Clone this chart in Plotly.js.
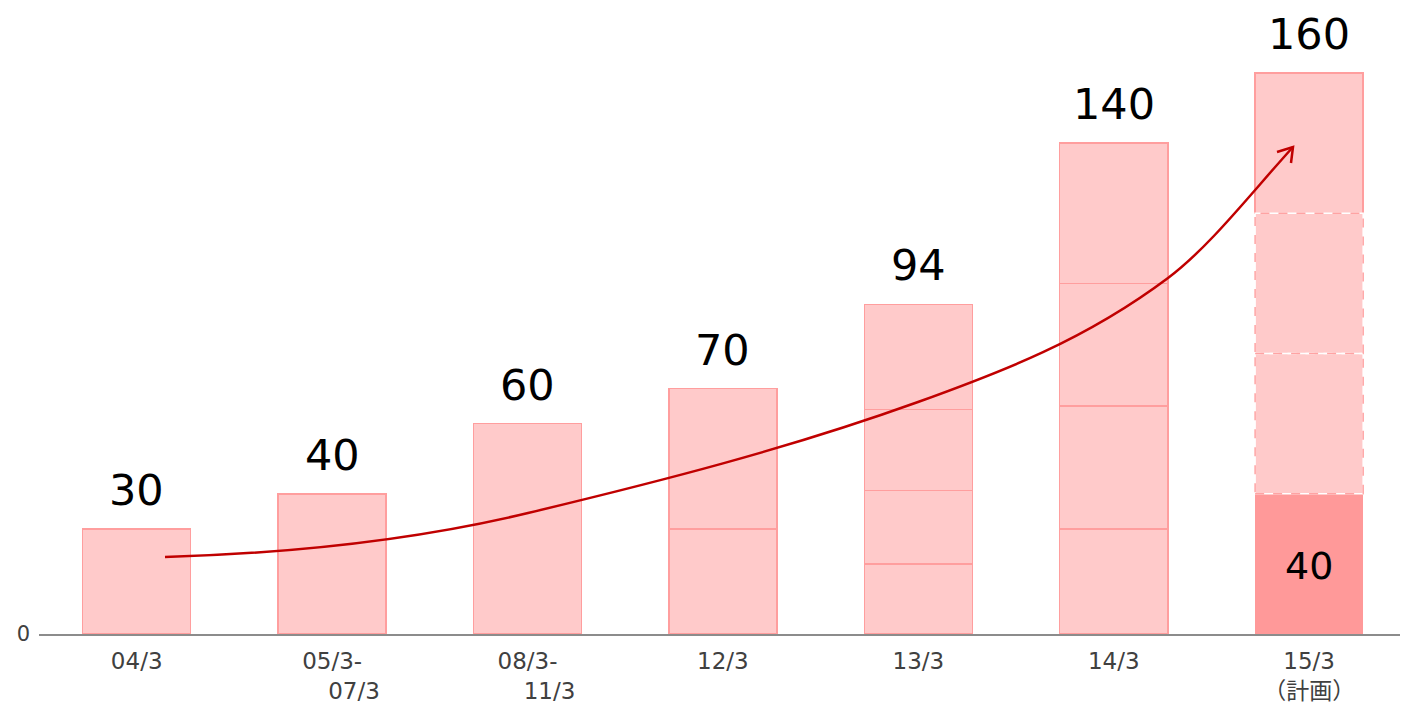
<!DOCTYPE html>
<html>
<head>
<meta charset="utf-8">
<script src="https://cdn.plot.ly/plotly-3.0.1.min.js"></script>
<style>html,body{margin:0;padding:0;background:#fff;}#chart{width:1402px;height:706px;}</style>
</head>
<body>
<div id="chart"></div>
<script>
// ---- data ----
const categories = ["04/3", "05/3-07/3", "08/3-11/3", "12/3", "13/3", "14/3", "15/3（計画）"];
const tickLabels = ["04/3", "05/3-<br>\u00A0\u00A0\u00A0\u00A0\u00A0\u00A007/3", "08/3-<br>\u00A0\u00A0\u00A0\u00A0\u00A0\u00A011/3", "12/3", "13/3", "14/3", "15/3<br>（計画）"];
const seg1 = [30, 40, 60, 30, 20, 30, 40];
const seg2 = [null, null, null, 40, 21, 35, 40];
const seg3 = [null, null, null, null, 23, 35, 40];
const seg4 = [null, null, null, null, 30, 40, 40];
const planIndex = 6;          // the planned bar
const planInnerLabel = 40;    // label inside the dark base segment

// ---- styling ----
const FONT = '"DejaVu Sans", "Noto Sans CJK JP", sans-serif';
const FILL = '#FFCACA';
const EDGE = '#FF9E9E';
const DARK = '#FF9999';
const BW = 0.553;
const L = 39, R = 2, T = 10, B = 72, W = 1402, H = 706;
const PW = W - L - R, PH = H - T - B;

const layers = [seg1, seg2, seg3, seg4];
const traces = layers.map((vals, li) => {
  const colors = vals.map((v, i) => (i === planIndex && li === 0) ? DARK : FILL);
  const lw = vals.map((v, i) => (i === planIndex && (li === 0 || li === 1 || li === 2)) ? 0 : 1.5);
  const lc = vals.map((v, i) => (i === planIndex && li === 0) ? DARK : EDGE);
  return {
    type: 'bar',
    x: categories.map((c, i) => i),
    y: vals,
    width: BW,
    marker: {color: colors, line: {color: lc, width: lw}},
    hoverinfo: 'skip',
    showlegend: false
  };
});

const totals = categories.map((c, i) => layers.reduce((s, a) => s + (a[i] || 0), 0));

const annotations = totals.map((t, i) => ({
  x: i, y: t, xref: 'x', yref: 'y', text: String(t), showarrow: false,
  yanchor: 'bottom', yshift: 12, font: {family: FONT, size: 43, color: '#000'}
}));
annotations.push({
  x: planIndex, y: seg1[planIndex] / 2, xref: 'x', yref: 'y', text: String(planInnerLabel),
  showarrow: false, yshift: -2, font: {family: FONT, size: 38, color: '#000'}
});

// dashed outlines for the planned middle segments
const shapes = [];
let base = seg1[planIndex];
[seg2, seg3].forEach(arr => {
  const v = arr[planIndex];
  const r = {type: 'rect', xref: 'x', yref: 'y', x0: planIndex - BW / 2, x1: planIndex + BW / 2,
             y0: base, y1: base + v, fillcolor: 'rgba(0,0,0,0)'};
  shapes.push(Object.assign({}, r, {line: {color: '#FFFFFF', width: 1.5}}));
  shapes.push(Object.assign({}, r, {line: {color: '#FFA3A3', width: 1.5, dash: 'dash'}}));
  base += v;
});

// decorative growth arrow: Hermite curve through pixel guide points with given slopes
function P(px, py) { return ((px - L) / PW).toFixed(5) + ',' + ((H - B - py) / PH).toFixed(5); }
const guide = [[165, 557, 0.03], [528, 513, 0.24], [918, 402, 0.36], [1168, 278, 0.75], [1293, 147, 1.1]];
let arrowPath = 'M' + P(guide[0][0], guide[0][1]);
for (let i = 0; i < guide.length - 1; i++) {
  const a = guide[i], b = guide[i + 1];
  const d = (b[0] - a[0]) / 3;
  arrowPath += ' C' + P(a[0] + d, a[1] - a[2] * d) + ' ' + P(b[0] - d, b[1] + b[2] * d) + ' ' + P(b[0], b[1]);
}
shapes.push({type: 'path', xref: 'paper', yref: 'paper', path: arrowPath,
             line: {color: '#C00000', width: 2.5}, layer: 'above'});
shapes.push({type: 'path', xref: 'paper', yref: 'paper',
             path: 'M' + P(1277, 152) + ' L' + P(1293, 147) + ' L' + P(1291, 163),
             line: {color: '#C00000', width: 2.5}, layer: 'above'});

const layout = {
  width: W, height: H,
  margin: {l: L, r: R, t: T, b: B},
  paper_bgcolor: '#fff', plot_bgcolor: '#fff',
  barmode: 'stack',
  bargap: 0,
  xaxis: {
    type: 'linear', range: [-0.5, 6.465],
    tickmode: 'array', tickvals: categories.map((c, i) => i), ticktext: tickLabels,
    showgrid: false, zeroline: false, showline: true, linecolor: '#8C8C8C', linewidth: 2,
    ticks: '', ticklabelstandoff: 5,
    tickfont: {family: FONT, size: 23, color: '#404040'}, fixedrange: true
  },
  yaxis: {
    range: [0, PH / 3.506],
    tickmode: 'array', tickvals: [0], ticktext: ['0'],
    showgrid: false, zeroline: false, showline: false, ticks: '',
    ticklabelstandoff: 8,
    tickfont: {family: FONT, size: 21, color: '#404040'}, fixedrange: true
  },
  annotations: annotations,
  shapes: shapes,
  font: {family: FONT}
};

Plotly.newPlot('chart', traces, layout, {displayModeBar: false, staticPlot: true});
</script>
</body>
</html>
